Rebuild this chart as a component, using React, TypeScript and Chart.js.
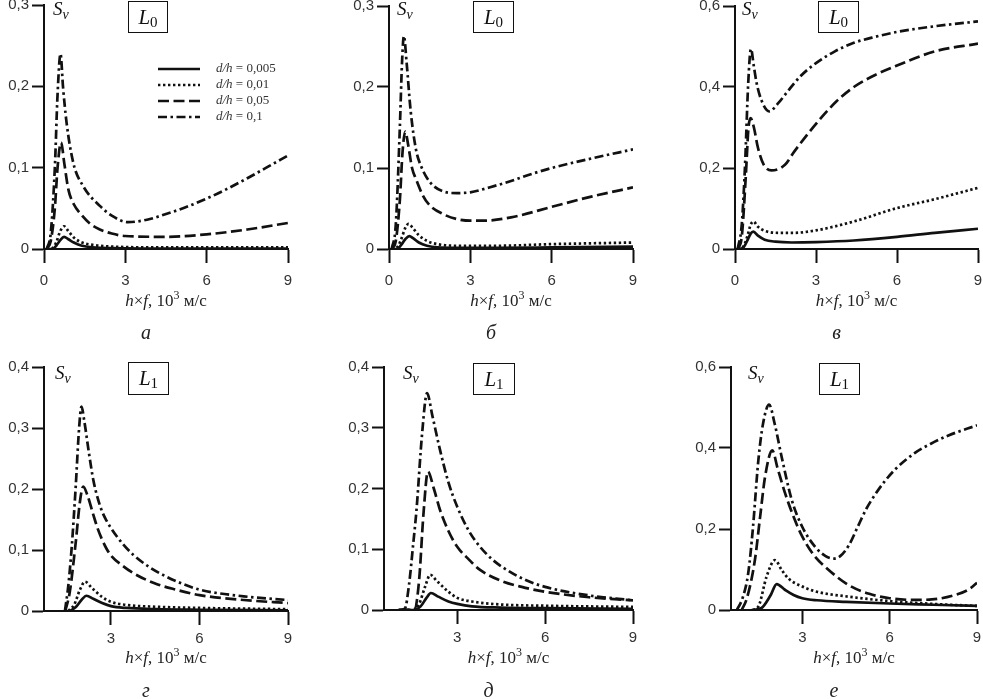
import { useEffect, useRef } from 'react';
import Chart from 'chart.js/auto';

type Pt = [number, number];

// а  (L0, top left)
const aSolid: Pt[] = [[0.1, 0], [0.3, 0], [0.45, 0.004], [0.6, 0.011], [0.74, 0.015], [0.9, 0.012], [1.1, 0.008], [1.4, 0.004], [1.8, 0.002], [2.5, 0.001], [4, 0.0006], [6, 0.0005], [9, 0.0005]];
const aDot: Pt[] = [[0.1, 0], [0.3, 0.001], [0.45, 0.008], [0.6, 0.022], [0.74, 0.028], [0.9, 0.022], [1.1, 0.014], [1.4, 0.008], [1.8, 0.005], [2.5, 0.003], [4, 0.002], [6, 0.002], [9, 0.002]];
const aDash: Pt[] = [[0.1, 0], [0.25, 0.01], [0.4, 0.05], [0.5, 0.1], [0.63, 0.131], [0.75, 0.105], [0.9, 0.073], [1.1, 0.055], [1.33, 0.044], [1.7, 0.031], [2.06, 0.024], [2.5, 0.019], [3, 0.016], [4.5, 0.015], [6, 0.018], [7.5, 0.024], [9, 0.032]];
const aDashDot: Pt[] = [[0.1, 0], [0.25, 0.02], [0.4, 0.1], [0.5, 0.19], [0.61, 0.24], [0.7, 0.2], [0.83, 0.156], [1.08, 0.106], [1.45, 0.077], [2.06, 0.053], [2.5, 0.041], [3.1, 0.033], [3.8, 0.036], [4.5, 0.043], [5.2, 0.051], [6, 0.062], [6.7, 0.073], [7.5, 0.087], [8.2, 0.1], [9, 0.115]];

// б  (L0, top middle)
const bSolid: Pt[] = [[0.1, 0], [0.3, 0], [0.45, 0.005], [0.6, 0.012], [0.75, 0.016], [0.9, 0.013], [1.1, 0.008], [1.4, 0.004], [1.8, 0.002], [2.5, 0.0015], [4, 0.0015], [6, 0.002], [9, 0.003]];
const bDot: Pt[] = [[0.1, 0], [0.3, 0.002], [0.45, 0.012], [0.6, 0.026], [0.72, 0.031], [0.9, 0.025], [1.1, 0.017], [1.4, 0.01], [1.8, 0.006], [2.5, 0.004], [4, 0.004], [6, 0.006], [9, 0.008]];
const bDash: Pt[] = [[0.1, 0], [0.25, 0.01], [0.4, 0.06], [0.5, 0.12], [0.6, 0.145], [0.7, 0.13], [0.85, 0.1], [1, 0.086], [1.25, 0.066], [1.5, 0.054], [2, 0.043], [2.5, 0.037], [3, 0.035], [3.5, 0.035], [4.5, 0.039], [6, 0.052], [7.5, 0.065], [9, 0.076]];
const bDashDot: Pt[] = [[0.1, 0], [0.25, 0.03], [0.4, 0.15], [0.48, 0.23], [0.55, 0.263], [0.65, 0.23], [0.8, 0.17], [1, 0.122], [1.2, 0.101], [1.5, 0.083], [2, 0.071], [2.5, 0.069], [3, 0.07], [3.7, 0.076], [4.5, 0.084], [5.2, 0.092], [6, 0.1], [7.5, 0.112], [9, 0.123]];

// в  (L0, top right)
const cSolid: Pt[] = [[0.1, 0], [0.3, 0.003], [0.45, 0.02], [0.58, 0.038], [0.68, 0.043], [0.85, 0.033], [1.1, 0.023], [1.5, 0.018], [2.1, 0.016], [3, 0.017], [4.4, 0.021], [6, 0.03], [7.4, 0.04], [9, 0.05]];
const cDot: Pt[] = [[0.1, 0], [0.3, 0.005], [0.45, 0.03], [0.58, 0.06], [0.68, 0.068], [0.85, 0.055], [1.1, 0.045], [1.6, 0.04], [2.2, 0.04], [3, 0.046], [4.4, 0.068], [6, 0.101], [7.4, 0.123], [9, 0.151]];
const cDash: Pt[] = [[0.1, 0], [0.25, 0.03], [0.4, 0.18], [0.5, 0.3], [0.58, 0.323], [0.7, 0.3], [0.85, 0.25], [1.05, 0.21], [1.35, 0.194], [1.85, 0.208], [2.2, 0.241], [3, 0.309], [3.75, 0.364], [4.4, 0.4], [5.2, 0.43], [6, 0.453], [7.4, 0.488], [9, 0.507]];
const cDashDot: Pt[] = [[0.1, 0], [0.25, 0.06], [0.37, 0.204], [0.49, 0.41], [0.59, 0.494], [0.7, 0.45], [0.8, 0.41], [0.98, 0.367], [1.27, 0.34], [1.6, 0.36], [1.9, 0.385], [2.4, 0.425], [3, 0.459], [3.7, 0.488], [4.4, 0.509], [5.2, 0.524], [6, 0.536], [7.4, 0.55], [9, 0.562]];

// г  (L1, bottom left)
const dSolid: Pt[] = [[1.6, 0], [1.8, 0.006], [2, 0.018], [2.17, 0.025], [2.4, 0.02], [2.7, 0.013], [3, 0.008], [3.5, 0.005], [4.5, 0.003], [6, 0.002], [9, 0.001]];
const dDot: Pt[] = [[1.55, 0], [1.75, 0.01], [1.95, 0.035], [2.12, 0.048], [2.35, 0.038], [2.7, 0.023], [3, 0.015], [3.5, 0.01], [4.5, 0.007], [6, 0.005], [9, 0.003]];
const dDash: Pt[] = [[1.45, 0], [1.6, 0.03], [1.8, 0.11], [1.95, 0.18], [2.06, 0.204], [2.2, 0.19], [2.4, 0.158], [2.55, 0.135], [2.7, 0.117], [2.85, 0.102], [3, 0.091], [3.4, 0.074], [3.76, 0.062], [4.5, 0.045], [5.2, 0.035], [6, 0.026], [7.5, 0.018], [9, 0.013]];
const dDashDot: Pt[] = [[1.44, 0], [1.55, 0.04], [1.67, 0.105], [1.8, 0.2], [1.92, 0.3], [2, 0.335], [2.1, 0.31], [2.25, 0.26], [2.4, 0.215], [2.55, 0.185], [2.7, 0.163], [2.85, 0.148], [3, 0.136], [3.4, 0.11], [3.76, 0.092], [4.3, 0.072], [4.89, 0.056], [5.4, 0.045], [6, 0.035], [7.5, 0.024], [9, 0.018]];

// д  (L1, bottom middle)
const eSolid: Pt[] = [[1, 0], [1.5, 0], [1.75, 0.006], [1.95, 0.02], [2.1, 0.028], [2.35, 0.022], [2.7, 0.014], [3, 0.01], [3.5, 0.006], [4.5, 0.004], [6, 0.003], [9, 0.002]];
const eDot: Pt[] = [[1, 0], [1.5, 0], [1.7, 0.01], [1.9, 0.038], [2.08, 0.058], [2.3, 0.048], [2.7, 0.03], [3, 0.02], [3.5, 0.014], [4.5, 0.009], [6, 0.007], [9, 0.005]];
const eDash: Pt[] = [[1, 0], [1.55, 0.002], [1.7, 0.05], [1.85, 0.16], [2, 0.228], [2.2, 0.2], [2.41, 0.165], [2.7, 0.13], [3, 0.104], [3.4, 0.083], [3.78, 0.066], [4.5, 0.048], [5.2, 0.038], [6, 0.03], [7.5, 0.021], [9, 0.016]];
const eDashDot: Pt[] = [[1, 0], [1.21, 0.002], [1.35, 0.04], [1.5, 0.11], [1.61, 0.165], [1.8, 0.29], [1.97, 0.357], [2.15, 0.32], [2.41, 0.264], [2.7, 0.21], [3, 0.17], [3.4, 0.13], [3.78, 0.104], [4.2, 0.083], [4.69, 0.066], [5.3, 0.05], [6, 0.038], [7.5, 0.024], [9, 0.016]];

// е  (L1, bottom right)
const fSolid: Pt[] = [[1.26, 0], [1.6, 0.005], [1.9, 0.035], [2.12, 0.064], [2.4, 0.05], [2.7, 0.037], [3, 0.029], [3.5, 0.024], [4.5, 0.02], [6, 0.016], [7.5, 0.013], [9, 0.01]];
const fDot: Pt[] = [[1.3, 0], [1.5, 0.01], [1.77, 0.082], [2.06, 0.123], [2.3, 0.098], [2.52, 0.078], [3, 0.058], [3.5, 0.045], [4.58, 0.033], [6, 0.022], [7.5, 0.015], [9, 0.01]];
const fDash: Pt[] = [[0.92, 0], [1.1, 0.03], [1.37, 0.123], [1.55, 0.23], [1.72, 0.329], [1.97, 0.394], [2.15, 0.35], [2.41, 0.288], [2.7, 0.23], [3, 0.181], [3.4, 0.135], [3.78, 0.107], [4.58, 0.062], [5.3, 0.04], [6, 0.029], [6.8, 0.025], [7.45, 0.026], [8.25, 0.037], [8.7, 0.05], [9, 0.067]];
const fDashDot: Pt[] = [[0.75, 0], [0.95, 0.03], [1.14, 0.09], [1.3, 0.2], [1.49, 0.37], [1.65, 0.46], [1.86, 0.507], [2.05, 0.46], [2.29, 0.378], [2.64, 0.271], [3, 0.205], [3.44, 0.156], [3.8, 0.133], [4.07, 0.127], [4.3, 0.133], [4.6, 0.16], [4.9, 0.205], [5.2, 0.25], [5.5, 0.285], [5.8, 0.315], [6.2, 0.348], [6.87, 0.388], [7.4, 0.41], [8.02, 0.431], [9, 0.456]];

const ratios = ['0,005', '0,01', '0,05', '0,1'];
const xTicksTop = [0, 3, 6, 9];
const xTicksBottom = [3, 6, 9];
const yTicks03 = [0, 0.1, 0.2, 0.3];
const yTicks04 = [0, 0.1, 0.2, 0.3, 0.4];
const yTicks06 = [0, 0.2, 0.4, 0.6];

const INK = '#111';
const SERIF = '"Liberation Serif", "Times New Roman", serif';
const SANS = '"Liberation Sans", Arial, sans-serif';
const dashes = [[], [2.4, 2.6], [11, 4.5], [9, 3.5, 2.5, 3.5]];

const PAD = 14; // room above / right of the plot area
const Y_W = 44; // y-axis band width
const X_H = 40; // x-axis band height

type Box = { left: number; right: number; top: number; bottom: number };
type PanelDef = {
  series: Pt[][];
  xMin: number;
  yMax: number;
  xTicks: number[];
  yTicks: number[];
  box: Box;
  tickPad: number;
  sub: string;
  letter: string;
  sv: [number, number];
  frame: [number, number, number, number];
  titleY: number;
  letterY: number;
  legend?: boolean;
};

const panels: PanelDef[] = [
  { series: [aSolid, aDot, aDash, aDashDot], xMin: 0, yMax: 0.3, xTicks: xTicksTop, yTicks: yTicks03, box: { left: 44, right: 288, top: 5, bottom: 249 }, tickPad: 9, sub: '0', letter: 'а', sv: [53, -1], frame: [128, 1, 40, 32], titleY: 291, letterY: 321, legend: true },
  { series: [bSolid, bDot, bDash, bDashDot], xMin: 0, yMax: 0.3, xTicks: xTicksTop, yTicks: yTicks03, box: { left: 389, right: 633, top: 6, bottom: 249 }, tickPad: 9, sub: '0', letter: 'б', sv: [397, -1], frame: [473, 1, 41, 32], titleY: 291, letterY: 321 },
  { series: [cSolid, cDot, cDash, cDashDot], xMin: 0, yMax: 0.6, xTicks: xTicksTop, yTicks: yTicks06, box: { left: 735, right: 978, top: 6, bottom: 249 }, tickPad: 9, sub: '0', letter: 'в', sv: [742, -1], frame: [818, 1, 41, 32], titleY: 291, letterY: 321 },
  { series: [dSolid, dDot, dDash, dDashDot], xMin: 0.73, yMax: 0.4, xTicks: xTicksBottom, yTicks: yTicks04, box: { left: 44, right: 288, top: 367, bottom: 611 }, tickPad: 5, sub: '1', letter: 'г', sv: [55, 363], frame: [128, 362, 41, 33], titleY: 648, letterY: 679 },
  { series: [eSolid, eDot, eDash, eDashDot], xMin: 0.5, yMax: 0.4, xTicks: xTicksBottom, yTicks: yTicks04, box: { left: 384, right: 633, top: 367, bottom: 610 }, tickPad: 5, sub: '1', letter: 'д', sv: [403, 363], frame: [473, 363, 42, 32], titleY: 648, letterY: 679 },
  { series: [fSolid, fDot, fDash, fDashDot], xMin: 0.55, yMax: 0.6, xTicks: xTicksBottom, yTicks: yTicks06, box: { left: 731, right: 977, top: 367, bottom: 610 }, tickPad: 5, sub: '1', letter: 'е', sv: [748, 363], frame: [819, 363, 41, 32], titleY: 648, letterY: 679 },
];

const fmt = (v: number | string) => {
  const n = Number(v);
  return n === 0 ? '0' : n.toFixed(1).replace('.', ',');
};

// legend drawn inside panel а, using each dataset's own line style
const legendPlugin = {
  id: 'dhLegend',
  afterDatasetsDraw(chart: Chart) {
    const { ctx, chartArea } = chart;
    ctx.save();
    chart.data.datasets.forEach((ds: any, i: number) => {
      const y = chartArea.top + 64 + i * 16;
      const x0 = chartArea.left + 114;
      ctx.beginPath();
      ctx.setLineDash(ds.borderDash || []);
      ctx.lineWidth = ds.borderWidth;
      ctx.strokeStyle = ds.borderColor;
      ctx.moveTo(x0, y);
      ctx.lineTo(x0 + 42, y);
      ctx.stroke();
      ctx.setLineDash([]);
      ctx.fillStyle = '#333';
      ctx.textBaseline = 'middle';
      const tx = chartArea.left + 172;
      ctx.font = `italic 13px ${SERIF}`;
      ctx.fillText('d/h', tx, y);
      const w = ctx.measureText('d/h').width;
      ctx.font = `13px ${SERIF}`;
      ctx.fillText(` = ${ratios[i]}`, tx + w, y);
    });
    ctx.restore();
  },
};

function Panel({ p }: { p: PanelDef }) {
  const ref = useRef<HTMLCanvasElement>(null);
  const w = p.box.right - p.box.left + Y_W + PAD;
  const h = p.box.bottom - p.box.top + PAD + X_H;

  useEffect(() => {
    if (!ref.current) return;
    const chart = new Chart(ref.current, {
      type: 'line',
      data: {
        datasets: p.series.map((pts, i) => ({
          label: `d/h = ${ratios[i]}`,
          data: pts.map(([x, y]) => ({ x, y })),
          borderColor: INK,
          borderWidth: 2.7,
          borderDash: dashes[i],
          borderCapStyle: 'butt' as const,
          pointRadius: 0,
          fill: false,
          cubicInterpolationMode: 'monotone' as const,
        })),
      },
      options: {
        animation: false,
        responsive: false,
        layout: { padding: { top: PAD, right: PAD, left: 0, bottom: 0 } },
        plugins: { legend: { display: false }, tooltip: { enabled: false } },
        scales: {
          x: {
            type: 'linear',
            min: p.xMin,
            max: 9,
            afterBuildTicks: (s: any) => { s.ticks = p.xTicks.map((v) => ({ value: v })); },
            afterFit: (s: any) => { s.height = X_H; },
            grid: { drawOnChartArea: false, drawTicks: true, tickLength: 14, tickWidth: 2, tickColor: INK },
            border: { display: true, color: INK, width: 2 },
            ticks: { padding: p.tickPad, color: '#333', maxRotation: 0, autoSkip: false, font: { family: SANS, size: 15 }, callback: (v: any) => String(v) },
          },
          y: {
            type: 'linear',
            min: 0,
            max: p.yMax,
            afterBuildTicks: (s: any) => { s.ticks = p.yTicks.map((v) => ({ value: v })); },
            afterFit: (s: any) => { s.width = Y_W; },
            grid: { drawOnChartArea: false, drawTicks: true, tickLength: 12, tickWidth: 2, tickColor: INK },
            border: { display: true, color: INK, width: 2 },
            ticks: { padding: 3, color: '#333', autoSkip: false, font: { family: SANS, size: 15 }, callback: fmt },
          },
        },
      },
      plugins: p.legend ? [legendPlugin] : [],
    });
    return () => chart.destroy();
  }, [p]);

  const cx = (p.box.left + p.box.right) / 2;
  return (
    <>
      <canvas
        ref={ref}
        width={w}
        height={h}
        style={{ position: 'absolute', left: p.box.left - Y_W, top: p.box.top - PAD, width: w, height: h }}
      />
      <div style={{ position: 'absolute', left: p.sv[0], top: p.sv[1], fontFamily: SERIF, fontStyle: 'italic', fontSize: 19, lineHeight: '20px', color: INK }}>
        S<span style={{ fontSize: 14, position: 'relative', top: 4 }}>v</span>
      </div>
      <div
        style={{
          position: 'absolute', left: p.frame[0], top: p.frame[1], width: p.frame[2], height: p.frame[3],
          border: `1.5px solid ${INK}`, boxSizing: 'border-box', display: 'flex', alignItems: 'center',
          justifyContent: 'center', fontFamily: SERIF, fontSize: 21, color: INK, background: '#fff',
        }}
      >
        <span style={{ fontStyle: 'italic' }}>L</span>
        <span style={{ fontSize: 15, position: 'relative', top: 5 }}>{p.sub}</span>
      </div>
      <div style={{ position: 'absolute', left: cx - 80, width: 160, top: p.titleY, textAlign: 'center', fontFamily: SERIF, fontSize: 17, lineHeight: '20px', color: '#222' }}>
        <i>h</i>×<i>f</i>, 10<sup style={{ fontSize: 12, lineHeight: 0 }}>3</sup> м/с
      </div>
      <div style={{ position: 'absolute', left: cx - 30, width: 20, top: p.letterY, textAlign: 'center', fontFamily: SERIF, fontStyle: 'italic', fontSize: 20, lineHeight: '22px', color: '#222' }}>
        {p.letter}
      </div>
    </>
  );
}

export default function App() {
  return (
    <div style={{ position: 'fixed', left: 0, top: 0, width: 983, height: 699, overflow: 'hidden', background: '#fff' }}>
      {panels.map((p, i) => (
        <Panel key={i} p={p} />
      ))}
    </div>
  );
}
